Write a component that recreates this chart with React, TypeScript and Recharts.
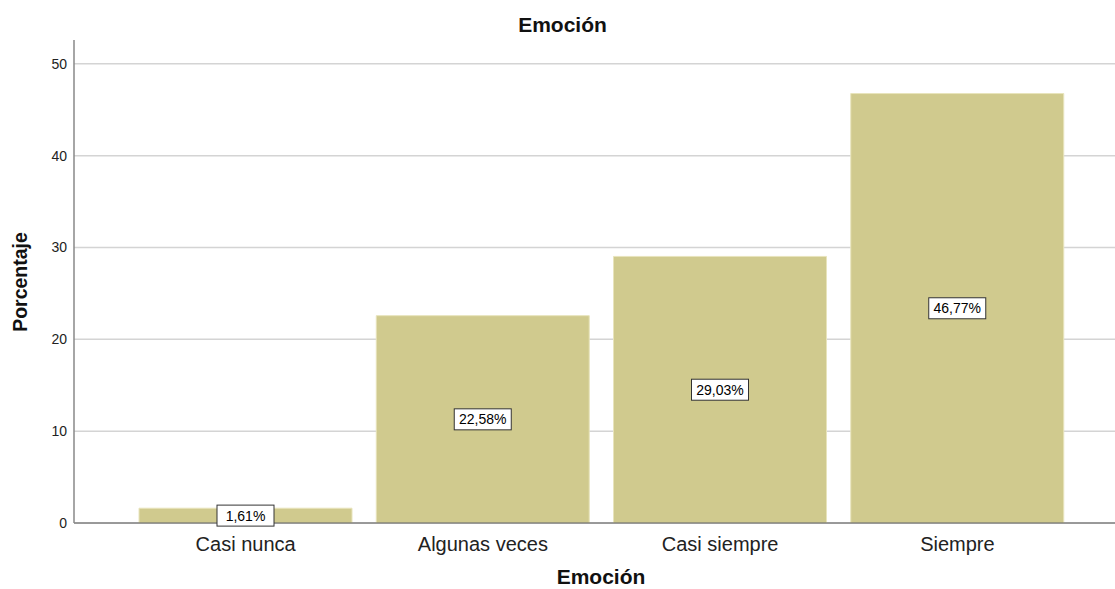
import React from 'react';
import { BarChart, Bar, XAxis, YAxis, CartesianGrid, LabelList } from 'recharts';

const categories = ['Casi nunca', 'Algunas veces', 'Casi siempre', 'Siempre'];
const percentages = [1.61, 22.58, 29.03, 46.77];
const yTicks = [0, 10, 20, 30, 40, 50];

const chartData = categories.map((name, i) => ({ name, value: percentages[i] }));

const FONT = 'Arial, "Liberation Sans", sans-serif';

// boxed value label drawn in the middle of each bar
const BoxLabel = (props: any) => {
  const { x, y, width, height, value } = props;
  const text = `${Number(value).toFixed(2).replace('.', ',')}%`;
  const cx = x + width / 2;
  const cy = y + height / 2;
  const w = 57;
  const h = 21;
  return (
    <g>
      <rect x={cx - w / 2} y={cy - h / 2} width={w} height={h} fill="#ffffff" stroke="#333333" strokeWidth={1} />
      <text x={cx} y={cy + 5} textAnchor="middle" fontSize={14} fontFamily={FONT} fill="#000">
        {text}
      </text>
    </g>
  );
};

const App: React.FC = () => {
  return (
    <div style={{ position: 'absolute', left: 0, top: 0, width: 1115, height: 589, background: '#fff', fontFamily: FONT }}>
      <BarChart
        width={1115}
        height={589}
        data={chartData}
        margin={{ top: 40, right: 0, bottom: 36, left: 0 }}
        barCategoryGap={12}
      >
        <CartesianGrid
          horizontal
          vertical={false}
          horizontalValues={yTicks}
          stroke="#d4d4d4"
          strokeWidth={1.5}
        />
        <XAxis
          dataKey="name"
          padding={{ left: 53, right: 39 }}
          tickLine={false}
          axisLine={{ stroke: '#555', strokeWidth: 1 }}
          tick={{ fontSize: 20, fill: '#222', fontFamily: FONT }}
          tickMargin={8}
          interval={0}
        />
        <YAxis
          width={74}
          domain={[0, 52.6]}
          ticks={yTicks}
          tickLine={false}
          axisLine={{ stroke: '#888', strokeWidth: 1.5 }}
          tick={{ fontSize: 14, fill: '#222', fontFamily: FONT }}
          tickMargin={1}
          allowDataOverflow
        />
        <Bar dataKey="value" fill="#d0ca8e" stroke="#e8e4bc" strokeWidth={1} isAnimationActive={false}>
          <LabelList dataKey="value" content={<BoxLabel />} />
        </Bar>
      </BarChart>
      <div style={{ position: 'absolute', top: 13, left: 0, width: 1125, textAlign: 'center', fontSize: 21, fontWeight: 'bold', color: '#111' }}>
        Emoción
      </div>
      <div style={{ position: 'absolute', top: 565, left: 0, width: 1202, textAlign: 'center', fontSize: 21, fontWeight: 'bold', color: '#111', lineHeight: '24px' }}>
        Emoción
      </div>
      <div
        style={{
          position: 'absolute',
          left: 20,
          top: 282,
          transform: 'translate(-50%, -50%) rotate(-90deg)',
          fontSize: 19.5,
          fontWeight: 'bold',
          color: '#111',
          whiteSpace: 'nowrap',
        }}
      >
        Porcentaje
      </div>
    </div>
  );
};

export default App;
